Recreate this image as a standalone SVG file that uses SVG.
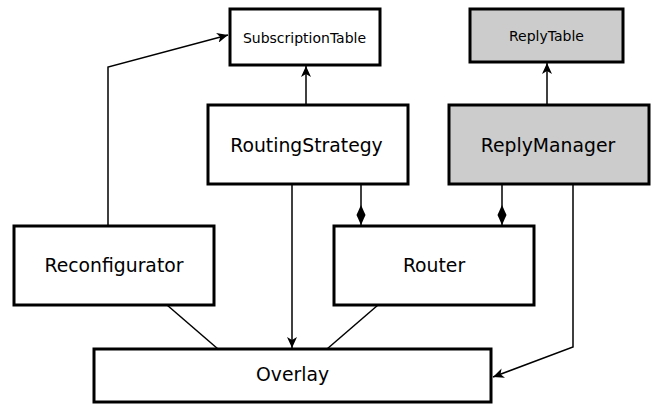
<svg xmlns="http://www.w3.org/2000/svg" width="663" height="406" viewBox="0 0 663 406">
<defs>
<style>
.box{fill:#fff;stroke:#000;stroke-width:3}
.grey{fill:#cccccc}
.t{font-family:"DejaVu Sans",sans-serif;font-size:18.8px;text-anchor:middle;fill:#000}
.s{font-size:14px}
.ln{fill:none;stroke:#000;stroke-width:1.5}
</style>
<marker id="arr" viewBox="0 0 12 10" refX="11" refY="5" markerWidth="12" markerHeight="10" markerUnits="userSpaceOnUse" orient="auto">
<path d="M0,0 L11,5 L0,10 L3,5 Z" fill="#000"/>
</marker>
<marker id="dia" viewBox="0 0 20 10" refX="20" refY="5" markerWidth="20" markerHeight="10" markerUnits="userSpaceOnUse" orient="auto">
<path d="M0,5 L10,0.5 L20,5 L10,9.5 Z" fill="#000"/>
</marker>
</defs>
<g id="connectors">
<polyline class="ln" points="108,226 108,67 228,35" marker-end="url(#arr)"/>
<line class="ln" x1="306" y1="105" x2="306" y2="66" marker-end="url(#arr)"/>
<line class="ln" x1="547" y1="105" x2="547" y2="63" marker-end="url(#arr)"/>
<line class="ln" x1="361" y1="184" x2="361" y2="225" marker-end="url(#dia)"/>
<line class="ln" x1="502" y1="184" x2="502" y2="225" marker-end="url(#dia)"/>
<line class="ln" x1="292" y1="184" x2="292" y2="348" marker-end="url(#arr)"/>
<line class="ln" x1="167" y1="305" x2="218" y2="349"/>
<line class="ln" x1="378" y1="305" x2="327" y2="349"/>
<polyline class="ln" points="573,184 573,347 493,377" marker-end="url(#arr)"/>
</g>
<g id="SubscriptionTable">
<rect class="box" x="230" y="9" width="150" height="56"/>
<text class="t s" x="304.5" y="42.5">SubscriptionTable</text>
</g>
<g id="ReplyTable">
<rect class="box grey" x="470" y="9" width="153" height="53"/>
<text class="t s" x="546.5" y="40.5">ReplyTable</text>
</g>
<g id="RoutingStrategy">
<rect class="box" x="208" y="105" width="200" height="79"/>
<text class="t" x="306.5" y="151.5">RoutingStrategy</text>
</g>
<g id="ReplyManager">
<rect class="box grey" x="449" y="105" width="200" height="79"/>
<text class="t" x="548" y="151.5">ReplyManager</text>
</g>
<g id="Reconfigurator">
<rect class="box" x="14" y="226" width="200" height="79"/>
<text class="t" x="114" y="272">Reconfigurator</text>
</g>
<g id="Router">
<rect class="box" x="334" y="226" width="200" height="79"/>
<text class="t" x="434" y="272">Router</text>
</g>
<g id="Overlay">
<rect class="box" x="94" y="349" width="397" height="53"/>
<text class="t" x="292.5" y="381">Overlay</text>
</g>
</svg>
